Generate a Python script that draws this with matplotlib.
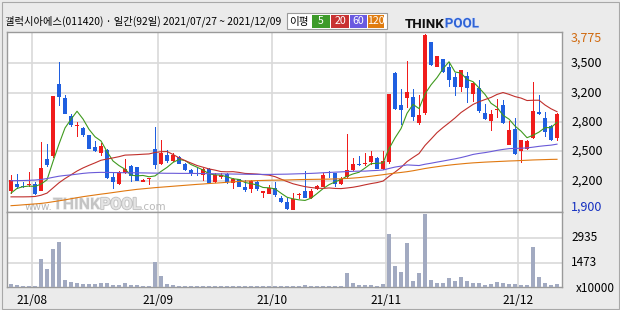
import numpy as np
import pandas as pd
import matplotlib
matplotlib.use("Agg")
import matplotlib.pyplot as plt
from matplotlib.patches import Rectangle
from matplotlib.transforms import blended_transform_factory
import matplotlib.patheffects as pe

# ---------------- data ----------------
title = "갤럭시아에스(011420) · 일간(92일) 2021/07/27 ~ 2021/12/09"

opens = [2105, 2175, 2160, 2165, 2175, 2105, 2445, 2475, 3240, 3090,
         2900, 2795, 2775, 2695, 2575, 2505, 2540, 2250, 2175, 2290,
         2370, 2360, 2200, 2225, 2550, 2390, 2485, 2425, 2460, 2395,
         2325, 2295, 2275, 2335, 2200, 2255, 2280, 2190, 2225, 2150,
         2125, 2200, 2085, 2075, 2130, 2030, 1985, 1905, 2065, 2100,
         2025, 2120, 2150, 2310, 2290, 2175, 2250, 2325, 2395, 2385,
         2415, 2455, 2335, 2410, 3360, 3020, 3090, 3105, 2825, 2930,
         3685, 3425, 3510, 3425, 3320, 3215, 3325, 3140, 3200, 2930,
         2850, 2960, 3020, 2590, 2760, 2530, 2545, 2665, 2945, 2875,
         2795, 2665]
highs = [2275, 2285, 2200, 2300, 2200, 2625, 2605, 3115, 3475, 3130,
         2920, 2840, 2780, 2695, 2630, 2610, 2545, 2295, 2320, 2445,
         2380, 2360, 2230, 2240, 2780, 2645, 2540, 2505, 2470, 2405,
         2335, 2355, 2350, 2345, 2290, 2295, 2290, 2240, 2230, 2220,
         2220, 2210, 2100, 2165, 2200, 2050, 2030, 2085, 2080, 2315,
         2120, 2165, 2290, 2315, 2295, 2255, 2705, 2450, 2475, 2505,
         2530, 2460, 2530, 3135, 3375, 3185, 3485, 3190, 3125, 3775,
         3690, 3540, 3510, 3480, 3360, 3390, 3375, 3265, 3290, 3030,
         2965, 3080, 3070, 2850, 2875, 2650, 2645, 3265, 3125, 2945,
         2805, 2930]
lows = [2070, 2120, 2130, 2150, 2060, 2100, 2360, 2450, 3005, 2925,
        2780, 2680, 2675, 2550, 2520, 2475, 2235, 2125, 2165, 2280,
        2200, 2210, 2195, 2170, 2335, 2380, 2405, 2415, 2385, 2320,
        2265, 2265, 2210, 2185, 2185, 2230, 2175, 2125, 2140, 2095,
        2085, 2100, 2025, 2075, 2035, 1970, 1900, 1900, 2015, 2030,
        2015, 2115, 2140, 2245, 2150, 2165, 2235, 2320, 2370, 2370,
        2380, 2335, 2325, 2390, 2965, 2805, 2990, 2850, 2805, 2910,
        3435, 3420, 3355, 3215, 3115, 3160, 3035, 3055, 2935, 2855,
        2745, 2875, 2815, 2590, 2485, 2405, 2540, 2660, 2910, 2675,
        2640, 2640]
closes = [2220, 2150, 2140, 2175, 2070, 2345, 2380, 3115, 3105, 2925,
          2805, 2810, 2700, 2555, 2530, 2580, 2245, 2200, 2310, 2335,
          2265, 2210, 2220, 2240, 2380, 2505, 2425, 2485, 2395, 2325,
          2290, 2285, 2335, 2190, 2275, 2270, 2195, 2235, 2150, 2115,
          2210, 2125, 2100, 2130, 2060, 1980, 1910, 2015, 2075, 2030,
          2100, 2155, 2275, 2290, 2175, 2235, 2325, 2395, 2380, 2400,
          2470, 2340, 2420, 3135, 2975, 2965, 3155, 2895, 2910, 3760,
          3445, 3540, 3365, 3285, 3215, 3390, 3195, 3250, 2955, 2865,
          2920, 2980, 2825, 2750, 2495, 2650, 2630, 2955, 2920, 2735,
          2645, 2920]
volumes = [198, 139, 79, 79, 79, 1683, 1089, 2277, 2693, 436,
           337, 277, 198, 198, 198, 257, 257, 139, 139, 257,
           139, 139, 79, 79, 1505, 673, 198, 139, 79, 79,
           79, 79, 79, 79, 79, 79, 79, 79, 79, 79,
           79, 79, 79, 79, 79, 79, 79, 79, 79, 139,
           79, 79, 79, 79, 79, 79, 871, 257, 139, 139,
           139, 79, 198, 3168, 1267, 931, 2653, 376, 871, 4356,
           436, 257, 257, 554, 376, 614, 376, 257, 257, 139,
           198, 317, 257, 198, 198, 139, 139, 2396, 614, 257,
           139, 198]

# moving-average values for days whose look-back window starts before the chart
ma5_head = [2080, 2130, 2148, 2155]
ma20_head = [2040, 2040, 2040, 2041, 2044, 2057, 2080, 2135, 2190, 2235,
             2275, 2315, 2348, 2376, 2402, 2430, 2443, 2455, 2468]
ma60_head = [2212, 2213, 2214, 2216, 2219, 2225, 2235, 2248, 2260, 2268,
             2274, 2282, 2290, 2296, 2299, 2301, 2300, 2299, 2298, 2297,
             2297, 2296, 2295, 2294, 2293, 2292, 2291, 2291, 2290, 2290,
             2290, 2289, 2288, 2287, 2286, 2285, 2284, 2283, 2282, 2281,
             2280, 2280, 2279, 2279, 2280, 2281, 2282, 2284, 2286, 2288,
             2290, 2293, 2297, 2300, 2303, 2306, 2309, 2312, 2314]
ma120 = [1946, 1950, 1955, 1960, 1965, 1970, 1978, 1988, 1998, 2008,
         2020, 2031, 2042, 2051, 2060, 2069, 2077, 2086, 2095, 2104,
         2112, 2120, 2126, 2132, 2138, 2143, 2148, 2153, 2158, 2163,
         2168, 2173, 2177, 2182, 2186, 2190, 2195, 2200, 2204, 2208,
         2211, 2213, 2215, 2217, 2218, 2219, 2220, 2222, 2224, 2225,
         2226, 2227, 2228, 2229, 2231, 2233, 2236, 2240, 2245, 2252,
         2260, 2268, 2276, 2285, 2293, 2300, 2308, 2318, 2330, 2342,
         2352, 2361, 2370, 2378, 2385, 2391, 2397, 2402, 2406, 2410,
         2413, 2416, 2419, 2422, 2424, 2427, 2430, 2433, 2435, 2437,
         2439, 2440]

month_start_idx = [4, 25, 44, 63, 85]
month_labels = ["21/08", "21/09", "21/10", "21/11", "21/12"]
price_min, price_max = 1900, 3775
price_tick_labels = ["2,200", "2,500", "2,800", "3,200", "3,500"]
vol_ticks = [1473, 2935]
vol_tick_labels = ["1473", "2935"]
ma_labels = ["5", "20", "60", "120"]

# ---------------- styling ----------------
BG = "#ebebeb"
RED = "#f01c1c"
BLUE = "#1f5fe0"
GRID = "#d9d9d9"
SPINE = "#9a9a9a"
MA_COLORS = ["#3f9a1e", "#c0302c", "#6a5ad8", "#e07810"]
LEG_COLORS = ["#3d9a2a", "#c83232", "#6a5ae0", "#e07c10"]
VOLC = "#a2aac1"
plt.rcParams["font.family"] = ["Noto Sans CJK KR", "DejaVu Sans"]

W, H = 620, 310
fig = plt.figure(figsize=(6.2, 3.1), dpi=100, facecolor=BG)


def fx(px):
    return px / W


def fy(py):
    return 1 - py / H


L, R = 7.3, 562.3
TOP, MID, BOT = 32.0, 212.3, 287.3
axp = fig.add_axes([fx(L), fy(MID), fx(R) - fx(L), fy(TOP) - fy(MID)])
axv = fig.add_axes([fx(L), fy(BOT), fx(R) - fx(L), fy(MID) - fy(BOT)])

n = len(closes)
x = np.arange(n)
o = np.array(opens, float)
c = np.array(closes, float)
h = np.array(highs, float)
lo = np.array(lows, float)

s = pd.Series(c)
ma5 = s.rolling(5).mean().to_numpy()
ma5[:len(ma5_head)] = ma5_head
ma20 = s.rolling(20).mean().to_numpy()
ma20[:len(ma20_head)] = ma20_head
ma60 = s.rolling(60).mean().to_numpy()
ma60[:len(ma60_head)] = ma60_head
mas = [ma5, ma20, ma60, np.array(ma120, float)]

xlim = (-0.62, n - 0.12)
px_per_unit = (R - L) / (xlim[1] - xlim[0])
for ax in (axp, axv):
    ax.set_facecolor("white")
    ax.set_xlim(*xlim)
    ax.set_xticks([])
    ax.set_yticks([])
    for sp in ax.spines.values():
        sp.set_color(SPINE)
        sp.set_linewidth(1.0)
    for m in month_start_idx:
        ax.axvline(m - 0.5, color=GRID, lw=1.2, zorder=0)

axp.set_ylim(price_min - 24.5, price_max + 21)
grid_vals = np.linspace(price_min, price_max, 7)[1:-1]
for v in grid_vals:
    axp.axhline(v, color=GRID, lw=1.2, zorder=0)

# watermark "www.THINKPOOL.com"
w1 = axp.text((25 - L) / (R - L), 0.012, "www.", transform=axp.transAxes, fontsize=7.5,
              color="#b9b9b9", family=["DejaVu Sans"], va="baseline", ha="left", zorder=1)
w2 = axp.annotate("THINK", xy=(1, 0), xycoords=w1, fontsize=11.5, fontweight="bold",
                  color="#c4c4c4", family=["Roboto", "DejaVu Sans"], va="bottom",
                  ha="left", zorder=1,
                  path_effects=[pe.withStroke(linewidth=1.0, foreground="#f2f2f2")])
w3 = axp.annotate("POOL", xy=(1, 0), xycoords=w2, fontsize=11.5, fontweight="bold",
                  color="#e4e4e4", family=["Roboto", "DejaVu Sans"], va="bottom",
                  ha="left", zorder=1,
                  path_effects=[pe.withStroke(linewidth=1.3, foreground="#c2c2c2")])
w4 = axp.annotate(".com", xy=(1, 0), xycoords=w3, fontsize=7.5, color="#b9b9b9",
                  family=["DejaVu Sans"], va="bottom", ha="left", zorder=1)

# candles: wicks one pixel wide, bodies ~5 px
up = c >= o
col = np.where(up, RED, BLUE)
axp.bar(x, h - lo, bottom=lo, width=1.0 / px_per_unit, color=col, linewidth=0,
        zorder=3, antialiased=False)
axp.bar(x, np.maximum(np.abs(c - o), 9), bottom=np.minimum(o, c), width=0.82, color=col,
        linewidth=0, zorder=4, antialiased=False)

for m, colr in zip(mas, MA_COLORS):
    axp.plot(x, m, color=colr, lw=0.8, zorder=5)

# price labels on the right
trp = blended_transform_factory(axp.transAxes, axp.transData)
lx = (571 - L) / (R - L)
for v, lab in zip(grid_vals, price_tick_labels):
    axp.text(lx, v, lab, transform=trp, ha="left", va="center", fontsize=9, color="black",
             clip_on=False)
axp.text(lx, price_max - 44, f"{price_max:,}", transform=trp, ha="left", va="center",
         fontsize=9, color="#d06a10", clip_on=False)
axp.text(lx, price_min + 32, f"{price_min:,}", transform=trp, ha="left", va="center",
         fontsize=9, color="#1530c0", clip_on=False)

# volume
axv.set_ylim(0, 4455)
for v in vol_ticks:
    axv.axhline(v, color=GRID, lw=1.2, zorder=0)
axv.bar(x, volumes, width=0.82, color=VOLC, linewidth=0, zorder=3, antialiased=False)
trv = blended_transform_factory(axv.transAxes, axv.transData)
for v, lab in zip(vol_ticks, vol_tick_labels):
    axv.text(lx, v, lab, transform=trv, ha="left", va="center", fontsize=8.5,
             color="black", clip_on=False)
axv.text((576 - L) / (R - L), -0.01, "x10000", transform=axv.transAxes, ha="left",
         va="center", fontsize=8.5, color="black", clip_on=False)

trx = blended_transform_factory(axv.transData, axv.transAxes)
for m, lab in zip(month_start_idx, month_labels):
    axv.text(m - 0.5, -0.18, lab, transform=trx, ha="center", va="center", fontsize=8.5,
             color="black", clip_on=False)

# title
fig.text(fx(5), fy(21.5), title, ha="left", va="center", fontsize=7.4, color="black")

# MA legend box
fig.patches.append(Rectangle((fx(287), fy(29.3)), fx(387) - fx(287), fy(12.7) - fy(29.3),
                             transform=fig.transFigure, facecolor="white",
                             edgecolor="#9a9a9a", lw=0.8))
fig.text(fx(298.5), fy(21.5), "이평", ha="center", va="center", fontsize=7.6,
         color="black")
box_edges = [311.7, 331.0, 350.0, 367.5, 384.5]
for k, (lab, colr) in enumerate(zip(ma_labels, LEG_COLORS)):
    x0, x1 = box_edges[k], box_edges[k + 1] - 0.8
    fig.patches.append(Rectangle((fx(x0), fy(28)), fx(x1) - fx(x0), fy(15) - fy(28),
                                 transform=fig.transFigure, facecolor=colr,
                                 edgecolor="none"))
    fig.text(fx((x0 + x1) / 2), fy(21.5), lab, ha="center", va="center", fontsize=7.6,
             color="white")

# THINKPOOL logo
lg1 = fig.text(fx(405), fy(27.5), "THINK", ha="left", va="baseline", fontsize=9.6,
               fontweight="bold", color="#111111", family=["Roboto", "DejaVu Sans"])
axp.annotate("POOL", xy=(1, 0), xycoords=lg1, fontsize=9.6, fontweight="bold",
             color="#2f63d6", family=["Roboto", "DejaVu Sans"], ha="left",
             va="bottom", annotation_clip=False,
             path_effects=[pe.withStroke(linewidth=1.2, foreground="#dfe6f6")])

# outer frame
fig.patches.append(Rectangle((fx(1.5), fy(308.5)), fx(618.5) - fx(1.5),
                             fy(1.5) - fy(308.5), transform=fig.transFigure,
                             facecolor="none", edgecolor="#a8a8a8", lw=0.8))

fig.savefig("out.png", dpi=100, facecolor=BG)
